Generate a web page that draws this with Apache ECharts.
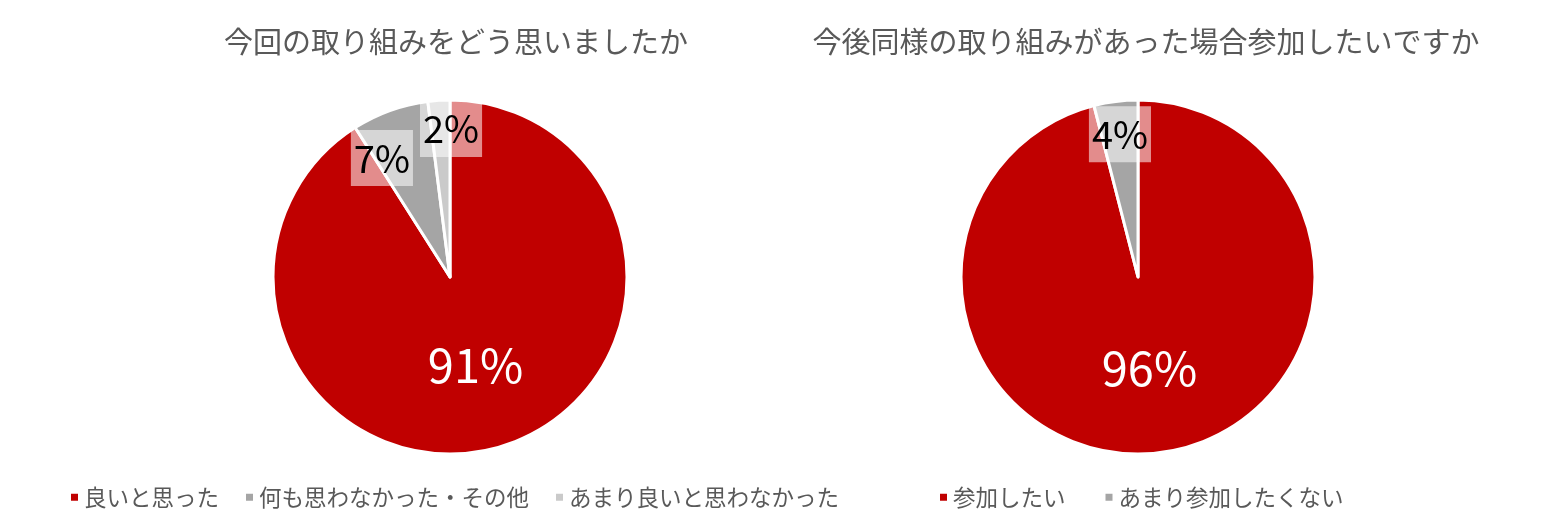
<!DOCTYPE html>
<html>
<head>
<meta charset="utf-8">
<script src="https://cdn.jsdelivr.net/npm/echarts@6/dist/echarts.min.js"></script>
<style>
  html, body { margin: 0; padding: 0; background: #fff; }
  #main { width: 1568px; height: 531px; }
</style>
</head>
<body>
<div id="main"></div>
<script>
var chartDom = document.getElementById('main');
var myChart = echarts.init(chartDom);
var option;

var title1 = '今回の取り組みをどう思いましたか';
var names1 = ['良いと思った', '何も思わなかった・その他', 'あまり良いと思わなかった'];
var values1 = [91, 7, 2];

var title2 = '今後同様の取り組みがあった場合参加したいですか';
var names2 = ['参加したい', 'あまり参加したくない'];
var values2 = [96, 4];

var colors = ['#C00000', '#A5A5A5', '#CACACA'];
var font = '"Noto Sans CJK JP", "Noto Sans", sans-serif';

var centers = [[450, 277], [1138, 277]];
var radius = 177;
// small slice labels sit nearer the rim (angle nudge in degrees, distance in px)
var nudge = [[0, -10, 4], [0, 0]];
var dist = [[0, 137, 148], [0, 144]];

function toData(names, values) {
  return names.map(function (n, i) {
    var big = i === 0;
    return {
      name: n,
      value: values[i],
      itemStyle: { color: colors[i] },
      label: big ? {
        color: '#fff',
        fontSize: 47
      } : {
        color: '#000',
        fontSize: 38,
        backgroundColor: 'rgba(255,255,255,0.55)',
        padding: [10, 3, 8, 3]
      }
    };
  });
}

function layoutFor(s) {
  return function (params) {
    if (params.dataIndex === 0) return {};
    var c = centers[s];
    var r = params.labelRect;
    var mx = r.x + r.width / 2 - c[0];
    var my = r.y + r.height / 2 - c[1];
    var ang = Math.atan2(my, mx) + nudge[s][params.dataIndex] * Math.PI / 180;
    var d = dist[s][params.dataIndex];
    return {
      x: c[0] + Math.cos(ang) * d,
      y: c[1] + Math.sin(ang) * d,
      align: 'center',
      verticalAlign: 'middle'
    };
  };
}

function pie(s, names, values) {
  return {
    type: 'pie',
    center: centers[s],
    radius: radius,
    startAngle: 90,
    clockwise: true,
    animation: false,
    silent: true,
    itemStyle: { borderColor: '#fff', borderWidth: 3 },
    label: {
      show: true,
      position: 'inside',
      formatter: '{c}%',
      fontFamily: font,
      align: 'center',
      verticalAlign: 'middle'
    },
    labelLine: { show: false },
    labelLayout: layoutFor(s),
    data: toData(names, values)
  };
}

var titleStyle = { fontSize: 29, fontWeight: 'normal', color: '#595959', fontFamily: font };
var legendText = { fontSize: 22.5, color: '#595959', fontFamily: font };

option = {
  textStyle: { fontFamily: font },
  title: [
    { text: title1, left: 451, top: 22, textAlign: 'center', textStyle: titleStyle },
    { text: title2, left: 1141, top: 22, textAlign: 'center', textStyle: titleStyle }
  ],
  legend: [
    {
      data: names1,
      left: 64,
      top: 481,
      icon: 'rect',
      itemWidth: 9,
      itemHeight: 9,
      itemGap: 25,
      textStyle: legendText
    },
    {
      data: names2,
      left: 933,
      top: 481,
      icon: 'rect',
      itemWidth: 9,
      itemHeight: 9,
      itemGap: 38,
      textStyle: legendText
    }
  ],
  series: [
    pie(0, names1, values1),
    pie(1, names2, values2)
  ]
};

option && myChart.setOption(option);
</script>
</body>
</html>
